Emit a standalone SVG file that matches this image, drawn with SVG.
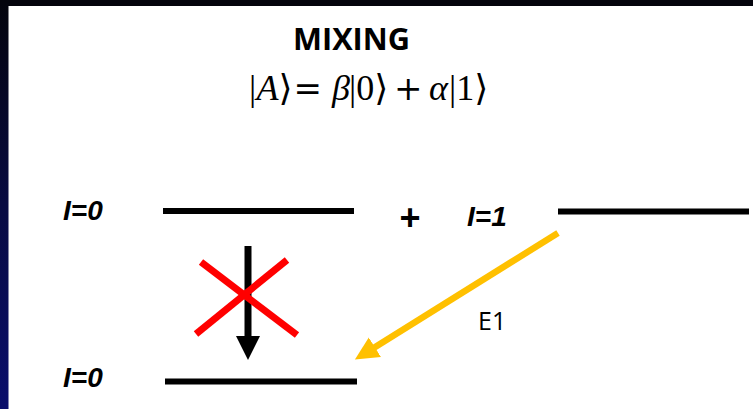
<svg xmlns="http://www.w3.org/2000/svg" width="753" height="409" viewBox="0 0 753 409">
  <defs>
    <linearGradient id="side" x1="0" y1="0" x2="0" y2="1">
      <stop offset="0" stop-color="#04040c"/>
      <stop offset="0.5" stop-color="#080b42"/>
      <stop offset="1" stop-color="#0a0e6c"/>
    </linearGradient>
    <marker id="headBlack" markerUnits="userSpaceOnUse" viewBox="0 -13 25 26" refX="1" refY="0" markerWidth="25" markerHeight="26" orient="auto">
      <path d="M0,-12 L24,0 L0,12 Z" fill="#000"/>
    </marker>
    <marker id="headYellow" markerUnits="userSpaceOnUse" viewBox="0 -13 25 26" refX="1" refY="0" markerWidth="25" markerHeight="26" orient="auto">
      <path d="M0,-11.5 L23.5,0 L0,11.5 Z" fill="#ffc000"/>
    </marker>
  </defs>
  <style>
    .lvl { stroke: #000; stroke-width: 6; }
    .lbl { font-family: "Liberation Sans", Arial, sans-serif; font-weight: bold; font-style: italic; font-size: 28px; fill: #000; }
    .math { font-family: "Liberation Serif", "DejaVu Serif", serif; font-size: 36px; fill: #000; }
    .it { font-style: italic; }
    .op { font-family: "DejaVu Serif", serif; font-size: 34px; }
    .cross { stroke: #ff0000; stroke-width: 7; }
  </style>
  <rect x="0" y="0" width="753" height="409" fill="#ffffff"/>
  <rect x="0" y="0" width="753" height="6" fill="#04040c"/>
  <rect x="0" y="0" width="8.5" height="409" fill="url(#side)"/>

  <g id="title">
    <text x="293" y="50" font-family="'Open Sans', 'Liberation Sans', sans-serif" font-weight="bold" font-size="31" textLength="117" lengthAdjust="spacingAndGlyphs">MIXING</text>
  </g>
  <g id="equation" class="math">
    <text y="100"><tspan x="249">|</tspan><tspan x="256.5" class="it">A</tspan><tspan x="278.5">⟩</tspan><tspan x="293.5" class="op">=</tspan><tspan x="332" class="it">β</tspan><tspan x="349">|0⟩</tspan><tspan x="394" class="op">+</tspan><tspan x="429" class="it">α</tspan><tspan x="449">|1⟩</tspan></text>
  </g>

  <g id="level-I0-upper">
    <line class="lvl" x1="163" y1="211" x2="354" y2="211"/>
    <text class="lbl" x="63" y="220">I=0</text>
  </g>
  <g id="plus">
    <text x="410" y="230" text-anchor="middle" font-family="'Liberation Sans', Arial, sans-serif" font-weight="bold" font-size="36">+</text>
  </g>
  <g id="level-I1">
    <line class="lvl" x1="558" y1="211.5" x2="749" y2="211.5"/>
    <text class="lbl" x="467" y="226">I=1</text>
  </g>
  <g id="level-I0-lower">
    <line class="lvl" x1="165" y1="381.5" x2="357" y2="381.5"/>
    <text class="lbl" x="63" y="387">I=0</text>
  </g>

  <g id="connectors">
    <line x1="248" y1="246" x2="248" y2="337" stroke="#000" stroke-width="7" marker-end="url(#headBlack)"/>
    <line x1="558" y1="233" x2="374" y2="347.7" stroke="#ffc000" stroke-width="6.5" marker-end="url(#headYellow)"/>
    <text x="478" y="330" font-family="'Open Sans', 'Liberation Sans', sans-serif" font-size="25">E1</text>
  </g>
  <g id="forbidden">
    <line class="cross" x1="201" y1="262" x2="297" y2="335"/>
    <line class="cross" x1="287" y1="260" x2="196" y2="334"/>
  </g>
</svg>
